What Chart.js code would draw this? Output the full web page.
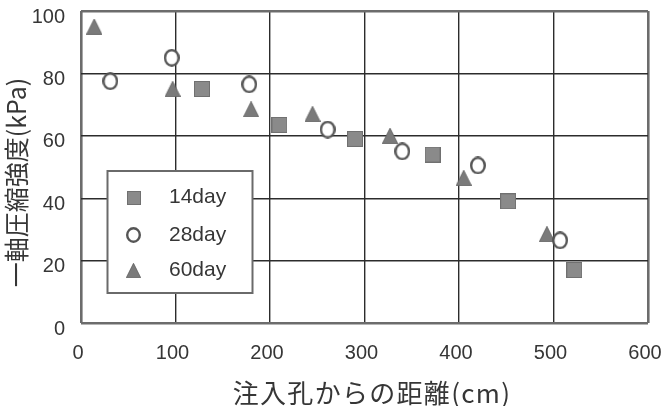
<!DOCTYPE html>
<html>
<head>
<meta charset="utf-8">
<script src="https://cdn.jsdelivr.net/npm/chart.js@4.4.1/dist/chart.umd.min.js"></script>
<style>
  html, body { margin: 0; padding: 0; background: #ffffff; }
  #wrap { width: 663px; height: 406px; position: relative; }
</style>
</head>
<body>
<div id="wrap"><canvas id="c"></canvas></div>
<script>
// Series: distance from injection hole (cm) vs. unconfined compressive strength (kPa)
const seriesLabels = ['14day', '28day', '60day'];

const distance14 = [128, 210, 290, 372, 452, 522];
const strength14 = [75, 63.5, 59, 54, 39, 17];

const distance28 = [31, 96, 178, 261, 340, 420, 507];
const strength28 = [77.5, 85, 76.5, 62, 55, 50.5, 26.5];

const distance60 = [14, 97, 180, 245, 327, 405, 493];
const strength60 = [95, 75, 68.5, 67, 60, 46.5, 28.5];

const xTicks = [0, 100, 200, 300, 400, 500, 600];
const yTicks = [0, 20, 40, 60, 80, 100];

const xTitle = '注入孔からの距離(cm)';
const yTitle = '一軸圧縮強度(kPa)';

const TEXT = '#363636';
const LATIN = '"Liberation Sans", Arial, Helvetica, sans-serif';
const CJK = '"Noto Sans CJK JP", "Noto Sans", sans-serif';

// ---- marker sprites -------------------------------------------------------
function squareMark(size) {
  const c = document.createElement('canvas');
  c.width = size; c.height = size;
  const g = c.getContext('2d');
  g.fillStyle = '#8a8a8a';
  g.fillRect(0, 0, size, size);
  g.strokeStyle = '#707070';
  g.lineWidth = 1;
  g.strokeRect(0.5, 0.5, size - 1, size - 1);
  return c;
}
function circleMark(w, h) {
  const c = document.createElement('canvas');
  c.width = w; c.height = h;
  const g = c.getContext('2d');
  const lw = 2.4;
  g.beginPath();
  g.ellipse(w / 2, h / 2, w / 2 - lw / 2, h / 2 - lw / 2, 0, 0, Math.PI * 2);
  g.fillStyle = '#ffffff';
  g.fill();
  g.lineWidth = lw;
  g.strokeStyle = '#555555';
  g.stroke();
  return c;
}
function triangleMark(w, h) {
  const c = document.createElement('canvas');
  c.width = w; c.height = h;
  const g = c.getContext('2d');
  g.beginPath();
  g.moveTo(w / 2, 0.3);
  g.lineTo(w - 0.3, h - 0.3);
  g.lineTo(0.3, h - 0.3);
  g.closePath();
  g.fillStyle = '#7a7a7a';
  g.fill();
  g.lineWidth = 0.8;
  g.strokeStyle = '#606060';
  g.stroke();
  return c;
}

const plotMarks = [squareMark(16), circleMark(16, 18), triangleMark(16, 16)];
const legendMarks = [squareMark(14), circleMark(15, 16), triangleMark(15, 15)];

function toPoints(xs, ys) { return xs.map((x, i) => ({ x: x, y: ys[i] })); }

const seriesData = [
  toPoints(distance14, strength14),
  toPoints(distance28, strength28),
  toPoints(distance60, strength60)
];

// ---- framed legend inside the plot ----------------------------------------
const boxLegend = {
  id: 'boxLegend',
  afterDatasetsDraw(chart) {
    const ctx = chart.ctx;
    const left = 107.5, top = 171, w = 145, h = 122;
    const rows = [197.5, 235, 270.5];
    ctx.save();
    ctx.fillStyle = '#ffffff';
    ctx.fillRect(left, top, w, h);
    ctx.strokeStyle = '#6a6a6a';
    ctx.lineWidth = 2;
    ctx.strokeRect(left, top, w, h);
    ctx.font = '21px ' + LATIN;
    ctx.fillStyle = TEXT;
    ctx.textAlign = 'left';
    ctx.textBaseline = 'middle';
    chart.data.datasets.forEach((ds, i) => {
      const m = legendMarks[i];
      ctx.drawImage(m, Math.round(133.5 - m.width / 2), Math.round(rows[i] - m.height / 2));
      ctx.fillText(ds.label, 169, rows[i]);
    });
    ctx.restore();
  }
};

// ---- axis titles ------------------------------------------------------------
const axisTitles = {
  id: 'axisTitles',
  afterDraw(chart) {
    const ctx = chart.ctx;
    ctx.save();
    ctx.fillStyle = TEXT;
    ctx.textAlign = 'center';
    ctx.textBaseline = 'middle';
    ctx.font = '26px ' + CJK;
    ctx.letterSpacing = '1.3px';
    ctx.fillText(xTitle, 372, 393);
    ctx.letterSpacing = '0px';
    ctx.translate(16.5, 182.5);
    ctx.rotate(-Math.PI / 2);
    ctx.font = '25px ' + CJK;
    ctx.fillText(yTitle, 0, 0);
    ctx.restore();
  }
};

function edgeAware(edgeA, edgeB, edgeVal, innerVal) {
  return (c) => (c.tick && (c.tick.value === edgeA || c.tick.value === edgeB)) ? edgeVal : innerVal;
}

new Chart(document.getElementById('c'), {
  type: 'scatter',
  data: {
    datasets: seriesLabels.map((label, i) => ({
      label: label,
      data: seriesData[i],
      pointStyle: plotMarks[i],
      pointRadius: 8,
      showLine: false
    }))
  },
  options: {
    responsive: true,
    maintainAspectRatio: false,
    animation: false,
    events: [],
    layout: { padding: { left: 0, right: 15, top: 11, bottom: 0 } },
    plugins: {
      legend: { display: false },
      tooltip: { enabled: false }
    },
    scales: {
      x: {
        type: 'linear',
        min: 0,
        max: 600,
        afterBuildTicks: (s) => { s.ticks = xTicks.map(v => ({ value: v })); },
        afterFit: (s) => { s.height = 83; s.paddingLeft = 0; s.paddingRight = 0; },
        grid: {
          drawTicks: false,
          color: edgeAware(0, 600, '#6c6c6c', '#2c2c2c'),
          lineWidth: edgeAware(0, 600, 2.6, 1.4)
        },
        border: { display: false },
        ticks: {
          padding: 18,
          labelOffset: -3,
          color: TEXT,
          font: { family: LATIN, size: 20 }
        }
      },
      y: {
        type: 'linear',
        min: 0,
        max: 100,
        afterBuildTicks: (s) => { s.ticks = yTicks.map(v => ({ value: v })); },
        afterFit: (s) => { s.width = 81; s.paddingTop = 0; s.paddingBottom = 0; },
        grid: {
          drawTicks: false,
          color: edgeAware(0, 100, '#6c6c6c', '#2c2c2c'),
          lineWidth: edgeAware(0, 100, 2.6, 1.4)
        },
        border: { display: false },
        ticks: {
          padding: 16,
          labelOffset: 6,
          color: TEXT,
          font: { family: LATIN, size: 20 }
        }
      }
    }
  },
  plugins: [boxLegend, axisTitles]
});
</script>
</body>
</html>
